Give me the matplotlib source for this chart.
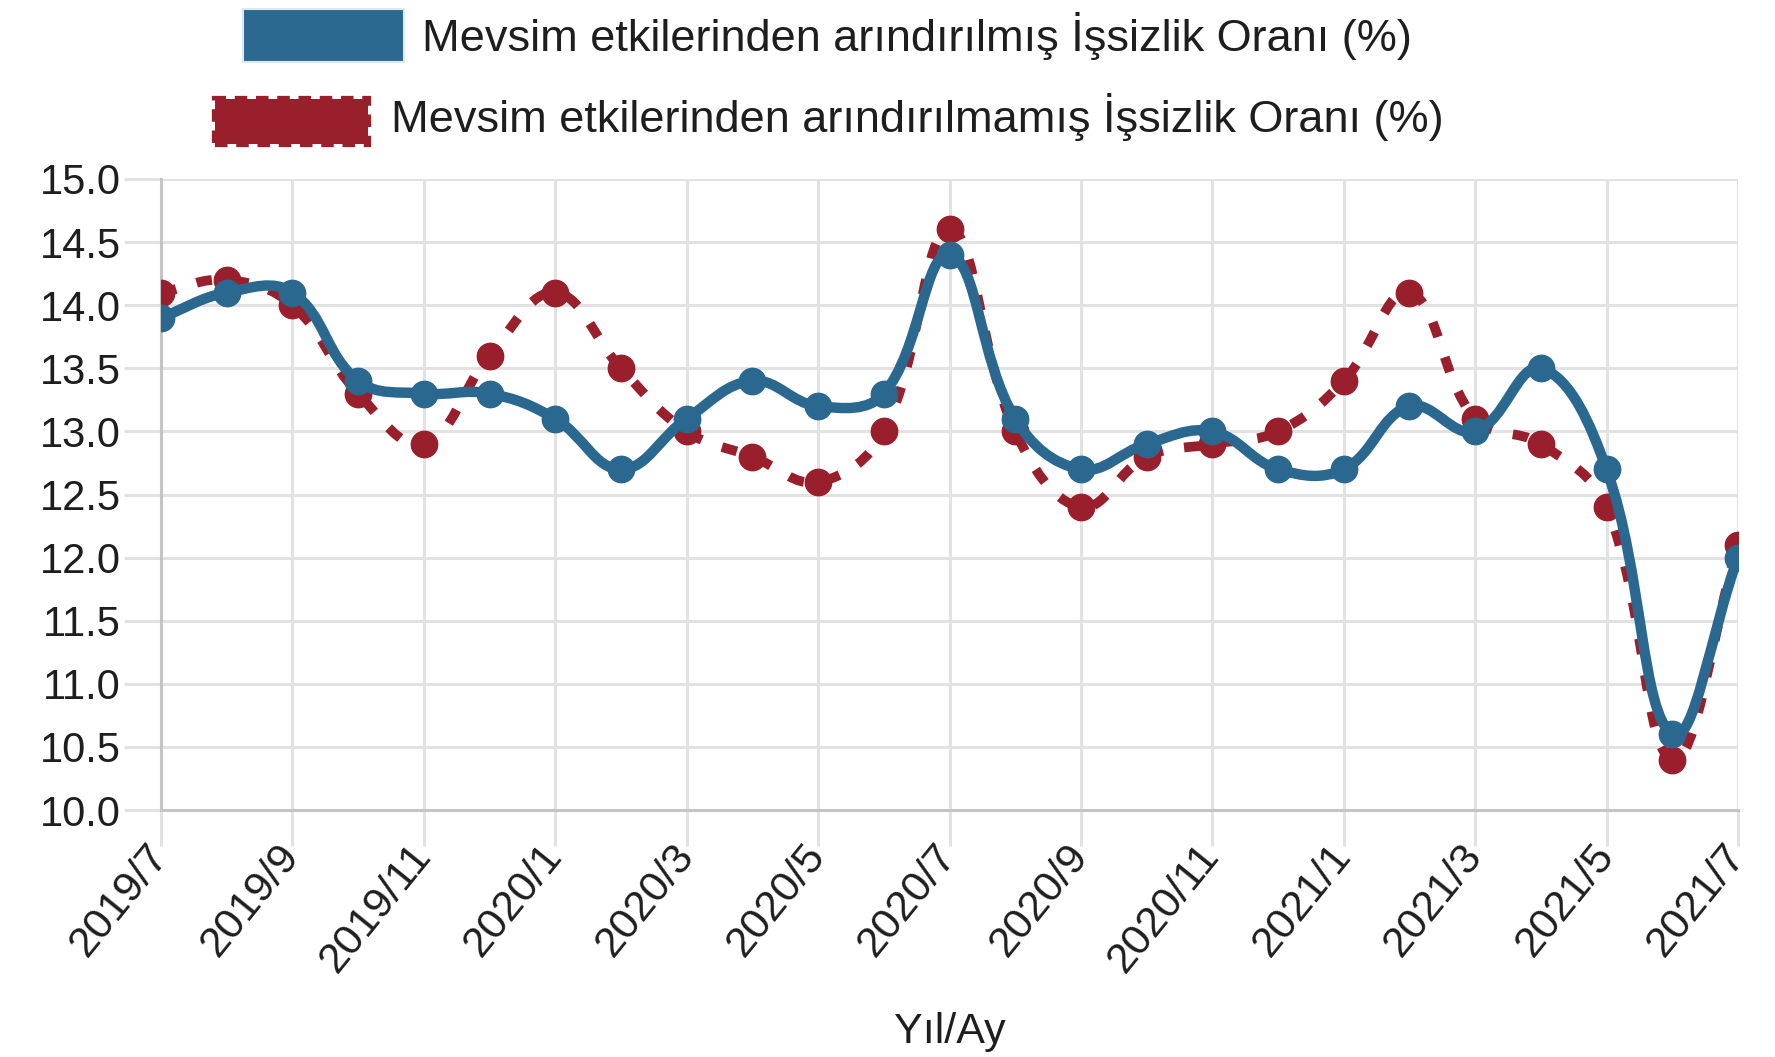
import matplotlib
matplotlib.use('Agg')
import matplotlib.pyplot as plt
import numpy as np
from matplotlib.path import Path
from matplotlib.patches import PathPatch, Rectangle

months = ['2019/7', '2019/8', '2019/9', '2019/10', '2019/11', '2019/12',
          '2020/1', '2020/2', '2020/3', '2020/4', '2020/5', '2020/6',
          '2020/7', '2020/8', '2020/9', '2020/10', '2020/11', '2020/12',
          '2021/1', '2021/2', '2021/3', '2021/4', '2021/5', '2021/6', '2021/7']
seasonally_adjusted = [13.9, 14.1, 14.1, 13.4, 13.3, 13.3, 13.1, 12.7, 13.1, 13.4,
                       13.2, 13.3, 14.4, 13.1, 12.7, 12.9, 13.0, 12.7, 12.7, 13.2,
                       13.0, 13.5, 12.7, 10.6, 12.0]
not_adjusted = [14.1, 14.2, 14.0, 13.3, 12.9, 13.6, 14.1, 13.5, 13.0, 12.8,
                12.6, 13.0, 14.6, 13.0, 12.4, 12.8, 12.9, 13.0, 13.4, 14.1,
                13.1, 12.9, 12.4, 10.4, 12.1]
legend_labels = ['Mevsim etkilerinden arındırılmış İşsizlik Oranı (%)',
                 'Mevsim etkilerinden arındırılmamış İşsizlik Oranı (%)']
y_ticks = [10.0, 10.5, 11.0, 11.5, 12.0, 12.5, 13.0, 13.5, 14.0, 14.5, 15.0]
x_title = 'Yıl/Ay'

BLUE = '#2a6890'
RED = '#9a1f2c'
GRID = '#e2e2e2'
TXT = '#1e1e1e'
FONT = ['Liberation Sans Narrow', 'Liberation Sans', 'DejaVu Sans']
plt.rcParams['font.family'] = FONT

W, H = 1775, 1057
fig = plt.figure(figsize=(W / 100, H / 100), dpi=100)
fig.patch.set_facecolor('white')
L, R, T, B = 161, 1738, 179, 810
ax = fig.add_axes([L / W, 1 - B / H, (R - L) / W, (B - T) / H])

x = np.arange(len(months))
ax.set_xlim(0, len(months) - 1)
ax.set_ylim(10, 15)


def spline_path(xs, ys, tension=0.4):
    pts = ax.transData.transform(np.column_stack([xs, ys]))
    n = len(pts)
    prev_c, next_c = [], []
    for i in range(n):
        p1 = pts[i]
        p0 = pts[i - 1] if i > 0 else p1
        p2 = pts[i + 1] if i < n - 1 else p1
        d01 = np.hypot(*(p1 - p0))
        d12 = np.hypot(*(p2 - p1))
        tot = d01 + d12
        s01 = d01 / tot if tot else 0
        s12 = d12 / tot if tot else 0
        prev_c.append(p1 - tension * s01 * (p2 - p0))
        next_c.append(p1 + tension * s12 * (p2 - p0))
    verts = [pts[0]]
    codes = [Path.MOVETO]
    for i in range(n - 1):
        verts += [next_c[i], prev_c[i + 1], pts[i + 1]]
        codes += [Path.CURVE4] * 3
    verts = ax.transData.inverted().transform(np.array(verts))
    return Path(verts, codes)


# Not-adjusted (red, dashed) below
ax.add_patch(PathPatch(spline_path(x, not_adjusted), facecolor='none', edgecolor=RED,
                       lw=7, linestyle=(0, (1.6, 2.2)), capstyle='butt', zorder=3))
ax.plot(x, not_adjusted, 'o', color=RED, ms=19, zorder=4)
# Adjusted (blue, solid) on top
ax.add_patch(PathPatch(spline_path(x, seasonally_adjusted), facecolor='none', edgecolor=BLUE,
                       lw=7.5, capstyle='round', joinstyle='round', zorder=5))
ax.plot(x, seasonally_adjusted, 'o', color=BLUE, ms=19, zorder=6)

# Axes styling
ax.set_yticks(y_ticks)
ax.set_yticklabels([f'{v:.1f}' for v in y_ticks])
ax.set_xticks(x[::2])
ax.set_xticklabels(months[::2], rotation=51, ha='right', va='center', rotation_mode='anchor')
ax.grid(True, color=GRID, lw=2.2, zorder=0)
ax.set_axisbelow(True)
for s in ['top', 'right']:
    ax.spines[s].set_visible(False)
for s in ['left', 'bottom']:
    ax.spines[s].set_color('#c4c4c4')
    ax.spines[s].set_linewidth(2.2)
ax.tick_params(axis='y', length=27, width=2.2, color=GRID, pad=2, labelsize=30, labelcolor=TXT)
ax.tick_params(axis='x', length=26, width=2.2, color=GRID, pad=2, labelsize=31, labelcolor=TXT)
ax.set_xlabel(x_title, fontsize=31, color=TXT, va='center')
ax.xaxis.set_label_coords(0.5, -(1032 - B) / (B - T))

# Legend (drawn in figure coordinates)
fig.patches.append(Rectangle((243 / W, 1 - 62 / H), 161 / W, 53 / H, transform=fig.transFigure,
                             facecolor=BLUE, edgecolor='#dbe8f0', lw=1.5))
fig.patches.append(Rectangle((215 / W, 1 - 144 / H), 153 / W, 45 / H, transform=fig.transFigure,
                             facecolor=RED, edgecolor='none'))
fig.patches.append(Rectangle((215 / W, 1 - 144 / H), 153 / W, 45 / H, transform=fig.transFigure,
                             facecolor='none', edgecolor=RED, lw=4.5, linestyle=(0, (2, 1.4))))
fig.text(422 / W, 1 - 36 / H, legend_labels[0], fontsize=32.5, color=TXT, va='center', ha='left')
fig.text(391 / W, 1 - 117 / H, legend_labels[1], fontsize=32.5, color=TXT, va='center', ha='left')

fig.savefig('out.png', dpi=100, facecolor='white')
